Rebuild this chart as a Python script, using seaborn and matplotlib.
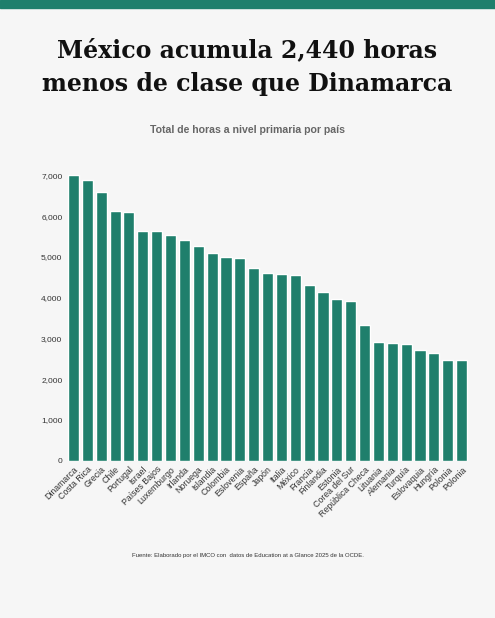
import matplotlib
matplotlib.use("Agg")
import matplotlib.pyplot as plt
import seaborn as sns
import pandas as pd

paises = ["Dinamarca", "Costa Rica", "Grecia", "Chile", "Portugal", "Israel",
          "Países Bajos", "Luxemburgo", "Irlanda", "Noruega", "Islandia",
          "Colombia", "Eslovenia", "España", "Japón", "Italia", "México",
          "Francia", "Finlandia", "Estonia", "Corea del Sur", "República Checa",
          "Lituania", "Alemania", "Turquía", "Eslovaquia", "Hungría",
          "Polonia", "Polonia "]
horas = [7000, 6877, 6583, 6132, 6100, 5634, 5634, 5536, 5413, 5266, 5094,
         4996, 4980, 4727, 4597, 4580, 4560, 4310, 4146, 3958, 3917, 3328,
         2903, 2887, 2862, 2715, 2641, 2470, 2470]
yticks = [0, 1000, 2000, 3000, 4000, 5000, 6000, 7000]

bg = "#f6f6f6"
teal = "#1f7f6c"

sns.set_theme(style="white")
plt.rcParams['font.family'] = ['Liberation Sans', 'DejaVu Sans']

df = pd.DataFrame({"pais": paises, "horas": horas})

fig = plt.figure(figsize=(4.95, 6.18), dpi=100, facecolor=bg)
ax = fig.add_axes([0.1345, 0.2545, 0.812, 0.4618])
ax.set_facecolor(bg)
sns.barplot(data=df, x="pais", y="horas", color=teal, saturation=1,
            width=0.8, ax=ax)
ax.set_ylim(0, 7000)
ax.set_yticks(yticks)
ax.set_yticklabels([f"{v:,}" for v in yticks], fontsize=6, color="#333333")
ax.set_xticks(range(len(paises)))
ax.set_xticklabels([p.strip() for p in paises], rotation=45, ha="right",
                   rotation_mode="anchor", fontsize=6.3, color="#333333")
ax.tick_params(axis="both", length=0, pad=3)
ax.set_xlabel("")
ax.set_ylabel("")
sns.despine(ax=ax, left=True, bottom=True)

# barra superior
fig.patches.append(plt.Rectangle((0, 1 - 8 / 618), 1, 8 / 618,
                                 transform=fig.transFigure, color=teal,
                                 zorder=0))

for y, linea in [(50, "México acumula 2,440 horas"),
                 (84, "menos de clase que Dinamarca")]:
    fig.text(0.5, 1 - y / 618, linea, ha="center", va="center",
             fontsize=17, fontweight="bold", family=["DejaVu Serif"],
             color="#111111")
fig.text(0.5, 1 - 130 / 618, "Total de horas a nivel primaria por país",
         ha="center", va="center", fontsize=7.6, fontweight="bold",
         color="#666666")
fig.text(0.5, 1 - 555 / 618,
         "Fuente: Elaborado por el IMCO con  datos de Education at a Glance 2025 de la OCDE.",
         ha="center", va="center", fontsize=4.3, color="#333333")

fig.savefig("out.png", dpi=100, facecolor=bg)
